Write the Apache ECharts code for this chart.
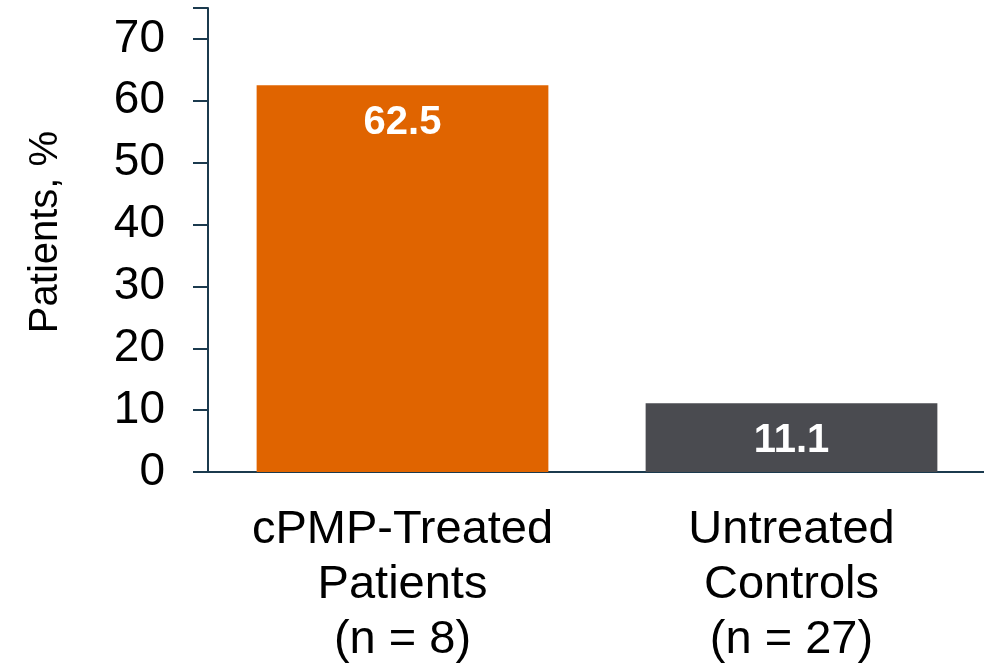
<!DOCTYPE html>
<html>
<head>
<meta charset="utf-8">
<script src="https://cdn.jsdelivr.net/npm/echarts@6/dist/echarts.min.js"></script>
<style>
  html, body { margin: 0; padding: 0; background: #ffffff; }
  #chart { width: 984px; height: 664px; }
</style>
</head>
<body>
<div id="chart"></div>
<script>
// Response rate by group
const categories = ['cPMP-Treated\nPatients\n(n = 8)', 'Untreated\nControls\n(n = 27)'];
const values = [62.5, 11.1];
const barColors = ['#e06400', '#4a4b50'];
const yAxisTitle = 'Patients, %';

const FONT = '"Liberation Sans", Arial, Helvetica, sans-serif';
const AXIS_COLOR = '#1b3a4e';

const chart = echarts.init(document.getElementById('chart'), null, { renderer: 'canvas' });

chart.setOption({
  animation: false,
  grid: { left: 208, top: 8, width: 778, bottom: 192, outerBoundsMode: 'none', containLabel: false },
  xAxis: {
    type: 'category',
    data: categories,
    axisLine: { lineStyle: { color: AXIS_COLOR, width: 2 } },
    axisTick: { show: false },
    axisLabel: {
      margin: 31,
      fontFamily: FONT,
      fontSize: 47,
      lineHeight: 55,
      color: '#000000',
      interval: 0
    }
  },
  yAxis: {
    type: 'value',
    min: 0,
    max: 75,
    interval: 10,
    name: yAxisTitle,
    nameLocation: 'middle',
    nameRotate: 90,
    nameGap: 142,
    nameTextStyle: { fontFamily: FONT, fontSize: 40, color: '#000000', padding: [0, 0, 0, 16] },
    splitLine: { show: false },
    axisLine: { show: true, lineStyle: { color: AXIS_COLOR, width: 2 } },
    axisTick: { show: true, length: 15, lineStyle: { color: AXIS_COLOR, width: 2 } },
    axisLabel: {
      margin: 43,
      fontFamily: FONT,
      fontSize: 46,
      color: '#000000',
      formatter: function (v) { return v > 70 ? '' : String(v); }
    }
  },
  series: [{
    type: 'bar',
    barCategoryGap: '25%',
    data: values.map(function (v, i) {
      return { value: v, itemStyle: { color: barColors[i] } };
    }),
    label: {
      show: true,
      position: 'insideTop',
      distance: 18,
      fontFamily: FONT,
      fontSize: 40,
      fontWeight: 'bold',
      color: '#ffffff',
      formatter: function (p) { return p.value.toFixed(1); }
    }
  }]
});
</script>
</body>
</html>
